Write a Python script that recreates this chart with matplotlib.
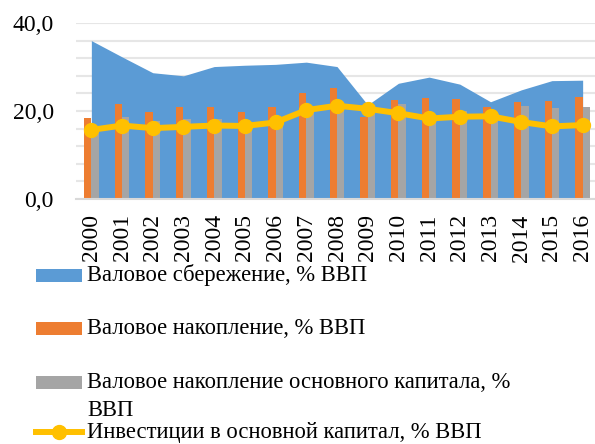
import numpy as np
import matplotlib.pyplot as plt
from matplotlib.patches import Rectangle
from matplotlib.lines import Line2D

years = [str(y) for y in range(2000, 2017)]
savings = [36.0, 32.3, 28.7, 28.0, 30.1, 30.4, 30.6, 31.1, 30.1, 21.4,
           26.3, 27.7, 26.1, 22.1, 24.8, 26.9, 27.0]
accumulation = [18.5, 21.7, 19.8, 20.8, 20.8, 19.8, 20.9, 24.0, 25.3, 18.7,
                22.5, 23.0, 22.7, 20.8, 22.1, 22.2, 23.2]
fixed_accum = [15.8, 18.6, 17.7, 18.2, 18.2, 17.0, 17.8, 20.0, 21.0, 20.5,
               21.5, 18.5, 20.0, 19.0, 21.1, 20.7, 20.9]
investments = [15.7, 16.7, 16.1, 16.4, 16.7, 16.6, 17.4, 20.2, 21.2, 20.5,
               19.5, 18.3, 18.7, 18.8, 17.5, 16.5, 16.8]

labels = ["Валовое сбережение, % ВВП",
          "Валовое накопление, % ВВП",
          "Валовое накопление основного капитала, %",
          "Инвестиции в основной капитал, % ВВП"]

blue = "#5B9BD5"
orange = "#ED7D31"
gray = "#A5A5A5"
yellow = "#FFC000"
serif = "Liberation Serif"

W, H = 595, 444
fig = plt.figure(figsize=(W / 100, H / 100), dpi=100)
ax = fig.add_axes([76 / W, 1 - 199 / H, 522 / W, 176 / H])

x = np.arange(len(years))
bw = 0.24
ax.fill_between(x, savings, color=blue, zorder=2, lw=0)
ax.bar(x - bw / 2, accumulation, width=bw, color=orange, zorder=3)
ax.bar(x + bw / 2, fixed_accum, width=bw, color=gray, zorder=3)
ax.plot(x, investments, color=yellow, lw=4.3, marker="o", ms=10, zorder=4)

ax.set_xlim(-0.5, len(years) - 0.5)
ax.set_ylim(0, 40)
ax.set_yticks([0, 20, 40])
ax.set_yticklabels(["0,0", "20,0", "40,0"])
ax.set_yticks(np.arange(0, 41, 4), minor=True)
ax.grid(axis="y", which="both", color="#E6E6E6", lw=1.5, zorder=0)
ax.set_xticks(x)
ax.set_xticklabels(years, rotation=90)
ax.tick_params(axis="both", length=0, which="both")
ax.tick_params(axis="y", pad=16)
ax.tick_params(axis="x", pad=11)
for t in ax.get_xticklabels() + ax.get_yticklabels():
    t.set_fontfamily(serif)
    t.set_fontsize(17)
for s in ["top", "right", "left"]:
    ax.spines[s].set_visible(False)
ax.spines["bottom"].set_color("#D9D9D9")
ax.spines["bottom"].set_linewidth(1.5)
ax.spines["bottom"].set_zorder(5)

# legend drawn by hand, one entry per row
rows = [275, 328, 382, 432]
fs = 16.3
for i, (yc, lab) in enumerate(zip(rows, labels)):
    fy = 1 - yc / H
    if i < 3:
        c = [blue, orange, gray][i]
        fig.add_artist(Rectangle((36 / W, fy - 6.5 / H), 46 / W, 13 / H,
                                 transform=fig.transFigure, color=c, lw=0))
    else:
        fig.add_artist(Line2D([36 / W, 82 / W], [fy, fy], transform=fig.transFigure,
                              color=yellow, lw=4.3))
        fig.add_artist(Line2D([59 / W], [fy], transform=fig.transFigure,
                              color=yellow, marker="o", ms=10))
    fig.text(87 / W, fy, lab, family=serif, fontsize=fs, va="center", ha="left")
fig.text(87 / W, 1 - 410 / H, "ВВП", family=serif, fontsize=fs, va="center", ha="left")

fig.savefig("out.png", dpi=100)
